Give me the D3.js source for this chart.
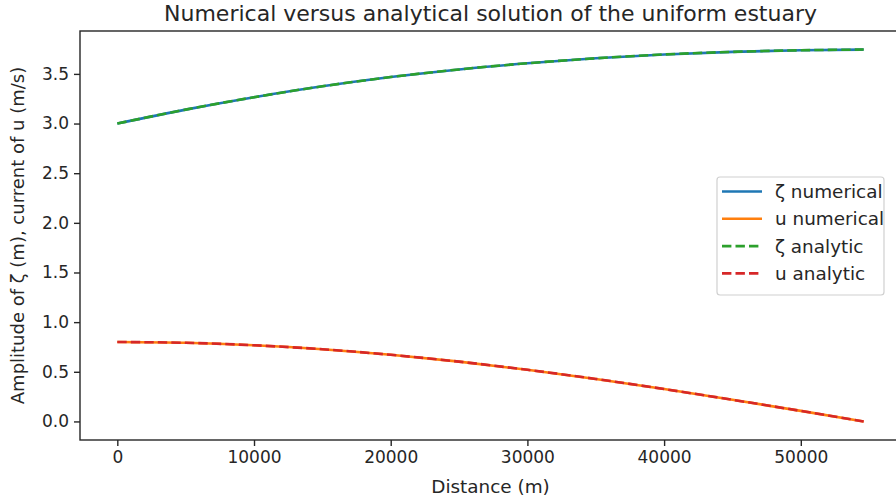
<!DOCTYPE html>
<html>
<head>
<meta charset="utf-8">
<script src="https://cdn.jsdelivr.net/npm/d3@7"></script>
<style>
  body{margin:0;background:#fff;}
  svg text{font-family:"DejaVu Sans",sans-serif;fill:#262626;}
</style>
</head>
<body>
<script>
var width=896,height=504;

// distance along the estuary (m)
var distance=[0,5000,10000,15000,20000,25000,30000,35000,40000,45000,50000,54600];
// amplitudes
var zetaNumerical=[3.000,3.140,3.265,3.375,3.468,3.545,3.607,3.657,3.696,3.722,3.738,3.745];
var uNumerical=[0.800,0.792,0.767,0.727,0.671,0.602,0.520,0.428,0.326,0.218,0.106,0.000];
var zetaAnalytic=[3.000,3.140,3.265,3.375,3.468,3.545,3.607,3.657,3.696,3.722,3.738,3.745];
var uAnalytic=[0.800,0.792,0.767,0.727,0.671,0.602,0.520,0.428,0.326,0.218,0.106,0.000];

var xTicks=[0,10000,20000,30000,40000,50000];
var yTicks=[0.0,0.5,1.0,1.5,2.0,2.5,3.0,3.5];
var seriesNames=["ζ numerical","u numerical","ζ analytic","u analytic"];
var seriesColors=["#1f77b4","#ff7f0e","#2ca02c","#d62728"];

var plotLeft=80,plotRight=901,plotTop=31,plotBottom=440;

var svg=d3.select("body").append("svg")
          .attr("width",width)
          .attr("height",height);

var xScale=d3.scaleLinear().domain([-2730,57330]).range([plotLeft,plotRight]);
var yScale=d3.scaleLinear().domain([-0.187,3.932]).range([plotBottom,plotTop]);

// lines
var series=[zetaNumerical,uNumerical,zetaAnalytic,uAnalytic];
var line=d3.line()
           .x(function(d,i){return xScale(distance[i]);})
           .y(function(d){return yScale(d);})
           .curve(d3.curveMonotoneX);

svg.append("g").selectAll("path")
   .data(series)
   .enter()
   .append("path")
   .attr("d",line)
   .attr("fill","none")
   .attr("stroke",function(d,i){return seriesColors[i];})
   .attr("stroke-width",2.6)
   .attr("stroke-dasharray",function(d,i){return i>=2?"9.4,4.1":null;});

// axes
var xAxis=d3.axisBottom(xScale).tickValues(xTicks).tickSize(6).tickPadding(5)
            .tickFormat(d3.format("d"));
var yAxis=d3.axisLeft(yScale).tickValues(yTicks).tickSize(6).tickPadding(5)
            .tickFormat(d3.format(".1f"));

var gx=svg.append("g").attr("transform","translate(0,"+plotBottom+")").call(xAxis);
var gy=svg.append("g").attr("transform","translate("+plotLeft+",0)").call(yAxis);
[gx,gy].forEach(function(g){
    g.select(".domain").remove();
    g.selectAll("line").attr("stroke","#262626").attr("stroke-width",1.4);
    g.selectAll("text").style("font-size","17px").attr("fill","#262626");
});

// spines
svg.append("rect")
   .attr("x",plotLeft).attr("y",plotTop)
   .attr("width",plotRight-plotLeft).attr("height",plotBottom-plotTop)
   .attr("fill","none")
   .attr("stroke","#262626")
   .attr("stroke-width",1.4);

// title and labels
svg.append("text")
   .attr("x",(plotLeft+plotRight)/2).attr("y",21)
   .attr("text-anchor","middle")
   .style("font-size","22px")
   .text("Numerical versus analytical solution of the uniform estuary");
svg.append("text")
   .attr("x",(plotLeft+plotRight)/2).attr("y",493)
   .attr("text-anchor","middle")
   .style("font-size","18.4px")
   .text("Distance (m)");
svg.append("text")
   .attr("transform","translate(24,"+((plotTop+plotBottom)/2)+") rotate(-90)")
   .attr("text-anchor","middle")
   .style("font-size","18px")
   .text("Amplitude of ζ (m), current of u (m/s)");

// legend
var legend=svg.append("g");
legend.append("rect")
   .attr("x",717).attr("y",177)
   .attr("width",167).attr("height",118)
   .attr("rx",3)
   .attr("fill","#fff").attr("fill-opacity",0.8)
   .attr("stroke","#d0d0d0").attr("stroke-width",1.2);
var rows=legend.selectAll("g.row")
   .data(seriesNames)
   .enter()
   .append("g")
   .attr("transform",function(d,i){return "translate(0,"+(191.5+i*27.3)+")";});
rows.append("line")
   .attr("x1",722).attr("x2",762)
   .attr("stroke",function(d,i){return seriesColors[i];})
   .attr("stroke-width",2.6)
   .attr("stroke-dasharray",function(d,i){return i>=2?"9.4,4.1":null;});
rows.append("text")
   .attr("x",775).attr("y",6.5)
   .style("font-size","18.4px")
   .text(function(d){return d;});
</script>
</body>
</html>
